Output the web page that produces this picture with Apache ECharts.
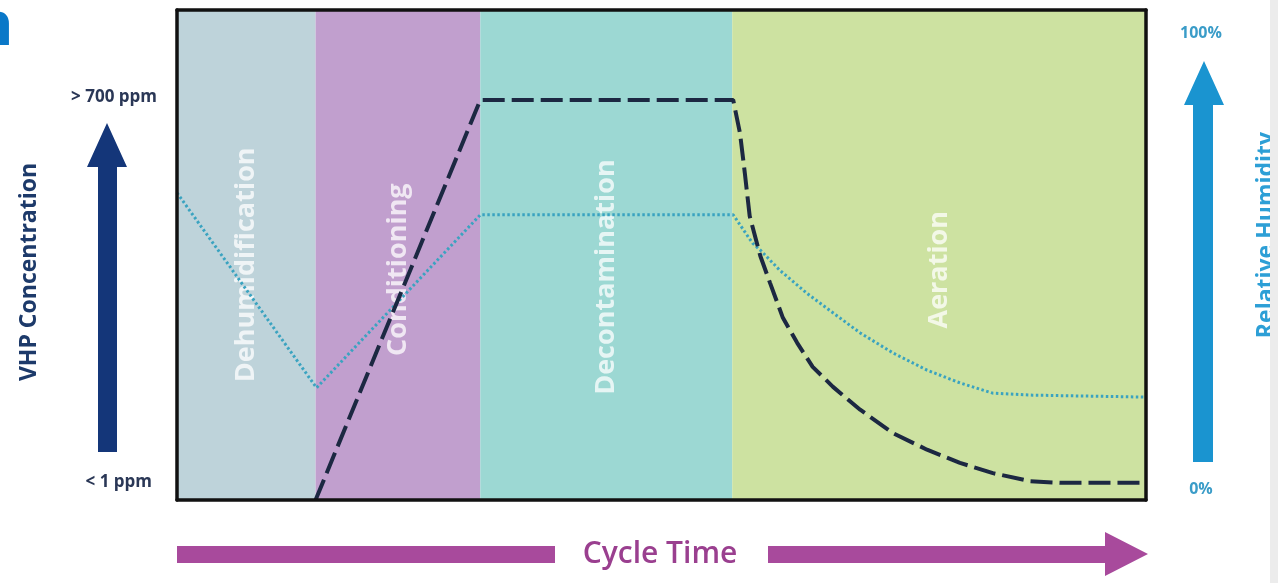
<!DOCTYPE html>
<html>
<head>
<meta charset="utf-8">
<title>VHP cycle</title>
<script src="https://cdn.jsdelivr.net/npm/echarts@6/dist/echarts.min.js"></script>
<style>
  html, body { margin: 0; padding: 0; background: #fff; }
  #chart { width: 1278px; height: 583px; }
</style>
</head>
<body>
<div id="chart"></div>
<script>
// 各阶段（周期时间，0-100）
const phaseNames = ['Dehumidification', 'Conditioning', 'Decontamination', 'Aeration']
const phaseStart = [0, 14.3, 31.3, 57.3]
const phaseEnd = [14.3, 31.3, 57.3, 100]
const phaseColors = ['#bed3da', '#c19fce', '#9cd8d3', '#cde2a1']
const phaseLabelPos = ['52%', '53%', '54.5%', '53%']

// VHP 浓度 (ppm)
const vhpTime = [14.3, 31.3, 57.4, 58.1, 58.6, 59.1, 60.2, 61.2, 62.5, 64.0, 65.6, 67.7, 70.5, 73.9, 77.4, 80.8, 84.2, 88.0, 91.1, 100]
const vhpPpm = [0, 700, 700, 642, 572, 497, 427, 380, 320, 275, 233, 198, 158, 117, 88, 65, 47, 33, 30, 30]

// 相对湿度 (%)
const rhTime = [0, 14.4, 31.3, 57.4, 59.4, 60.2, 62.2, 65.0, 67.7, 70.5, 73.9, 77.4, 80.8, 84.2, 88.3, 100]
const rhPct = [62.7, 22.9, 58.2, 58.2, 52.4, 51.0, 46.9, 42.2, 38.2, 34.1, 30.0, 26.5, 23.9, 21.8, 21.4, 21.0]

const frameLine = { show: true, onZero: false, lineStyle: { color: '#111', width: 3.5 } }

const chart = echarts.init(document.getElementById('chart'))

const areaData = phaseNames.map((name, i) => {
  return [
    {
      name: name,
      xAxis: phaseStart[i],
      itemStyle: { color: phaseColors[i], opacity: 1 },
      label: { position: ['50%', phaseLabelPos[i]] }
    },
    { xAxis: phaseEnd[i] }
  ]
})

const option = {
  animation: false,
  grid: { left: 177, right: 132, top: 10, bottom: 83 },
  xAxis: [
    { type: 'value', min: 0, max: 100, axisLine: frameLine, axisTick: { show: false }, axisLabel: { show: false }, splitLine: { show: false }, z: 10 },
    { type: 'value', min: 0, max: 100, position: 'top', axisLine: frameLine, axisTick: { show: false }, axisLabel: { show: false }, splitLine: { show: false }, z: 10 }
  ],
  yAxis: [
    // 700 ppm 在 y=100 处
    { type: 'value', min: 0, max: 857.5, axisLine: frameLine, axisTick: { show: false }, axisLabel: { show: false }, splitLine: { show: false }, z: 10 },
    { type: 'value', min: 0, max: 100, position: 'right', axisLine: frameLine, axisTick: { show: false }, axisLabel: { show: false }, splitLine: { show: false }, z: 10 }
  ],
  series: [
    {
      // 阶段背景
      type: 'line',
      data: [],
      z: 1,
      silent: true,
      markArea: {
        silent: true,
        label: {
          show: true,
          rotate: 90,
          align: 'center',
          verticalAlign: 'middle',
          color: 'rgba(255,255,255,0.75)',
          fontFamily: 'Open Sans',
          fontWeight: 'bold',
          fontSize: 27
        },
        data: areaData
      }
    },
    {
      name: 'Relative Humidity',
      type: 'line',
      yAxisIndex: 1,
      z: 3,
      symbol: 'none',
      data: rhTime.map((t, i) => [t, rhPct[i]]),
      lineStyle: { color: '#3aa3c0', width: 3, type: [2.5, 2.5] }
    },
    {
      name: 'VHP Concentration',
      type: 'line',
      yAxisIndex: 0,
      z: 4,
      symbol: 'none',
      data: vhpTime.map((t, i) => [t, vhpPpm[i]]),
      lineStyle: { color: '#1c2842', width: 4, type: [22, 7] }
    }
  ],
  graphic: [
    // 左上角被截断的标题
    { type: 'text', x: -26, y: 58, style: { text: 'n', fill: '#0a78c8', font: 'bold 60px "Open Sans"', verticalAlign: 'bottom' } },
    // 左侧纵轴
    { type: 'text', x: 157, y: 97, style: { text: '> 700 ppm', fill: '#2a3756', font: 'bold 17px "Open Sans"', align: 'right', verticalAlign: 'middle' } },
    { type: 'text', x: 152, y: 482, style: { text: '< 1 ppm', fill: '#2a3756', font: 'bold 17px "Open Sans"', align: 'right', verticalAlign: 'middle' } },
    { type: 'polygon', shape: { points: [[107, 123], [127, 167], [117, 167], [117, 452], [98, 452], [98, 167], [87, 167]] }, style: { fill: '#143679' } },
    { type: 'text', x: 29, y: 272, rotation: Math.PI / 2, style: { text: 'VHP Concentration', fill: '#1d3a6a', font: 'bold 23px "Open Sans"', align: 'center', verticalAlign: 'middle' } },
    // 右侧纵轴
    { type: 'text', x: 1201, y: 33, style: { text: '100%', fill: '#3a9cc8', font: 'bold 16px "Open Sans"', align: 'center', verticalAlign: 'middle' } },
    { type: 'text', x: 1201, y: 489, style: { text: '0%', fill: '#3a9cc8', font: 'bold 16px "Open Sans"', align: 'center', verticalAlign: 'middle' } },
    { type: 'polygon', shape: { points: [[1204, 61], [1224, 105], [1213, 105], [1213, 462], [1193, 462], [1193, 105], [1184, 105]] }, style: { fill: '#1a94d0' } },
    { type: 'text', x: 1266, y: 235, rotation: Math.PI / 2, style: { text: 'Relative Humidity', fill: '#2d9fd6', font: 'bold 23px "Open Sans"', align: 'center', verticalAlign: 'middle' } },
    { type: 'rect', shape: { x: 1270, y: 0, width: 10, height: 583 }, style: { fill: '#ececec' }, z: 100 },
    // 底部 Cycle Time 箭头
    { type: 'rect', shape: { x: 177, y: 546, width: 378, height: 17 }, style: { fill: '#a84a9c' } },
    { type: 'text', x: 660, y: 554, style: { text: 'Cycle Time', fill: '#9a3f8f', font: '600 30px "Liberation Sans Narrow", "Open Sans"', align: 'center', verticalAlign: 'middle' } },
    { type: 'polygon', shape: { points: [[768, 546], [1105, 546], [1105, 532], [1148, 554], [1105, 576], [1105, 563], [768, 563]] }, style: { fill: '#a84a9c' } }
  ]
}

chart.setOption(option)
</script>
</body>
</html>
